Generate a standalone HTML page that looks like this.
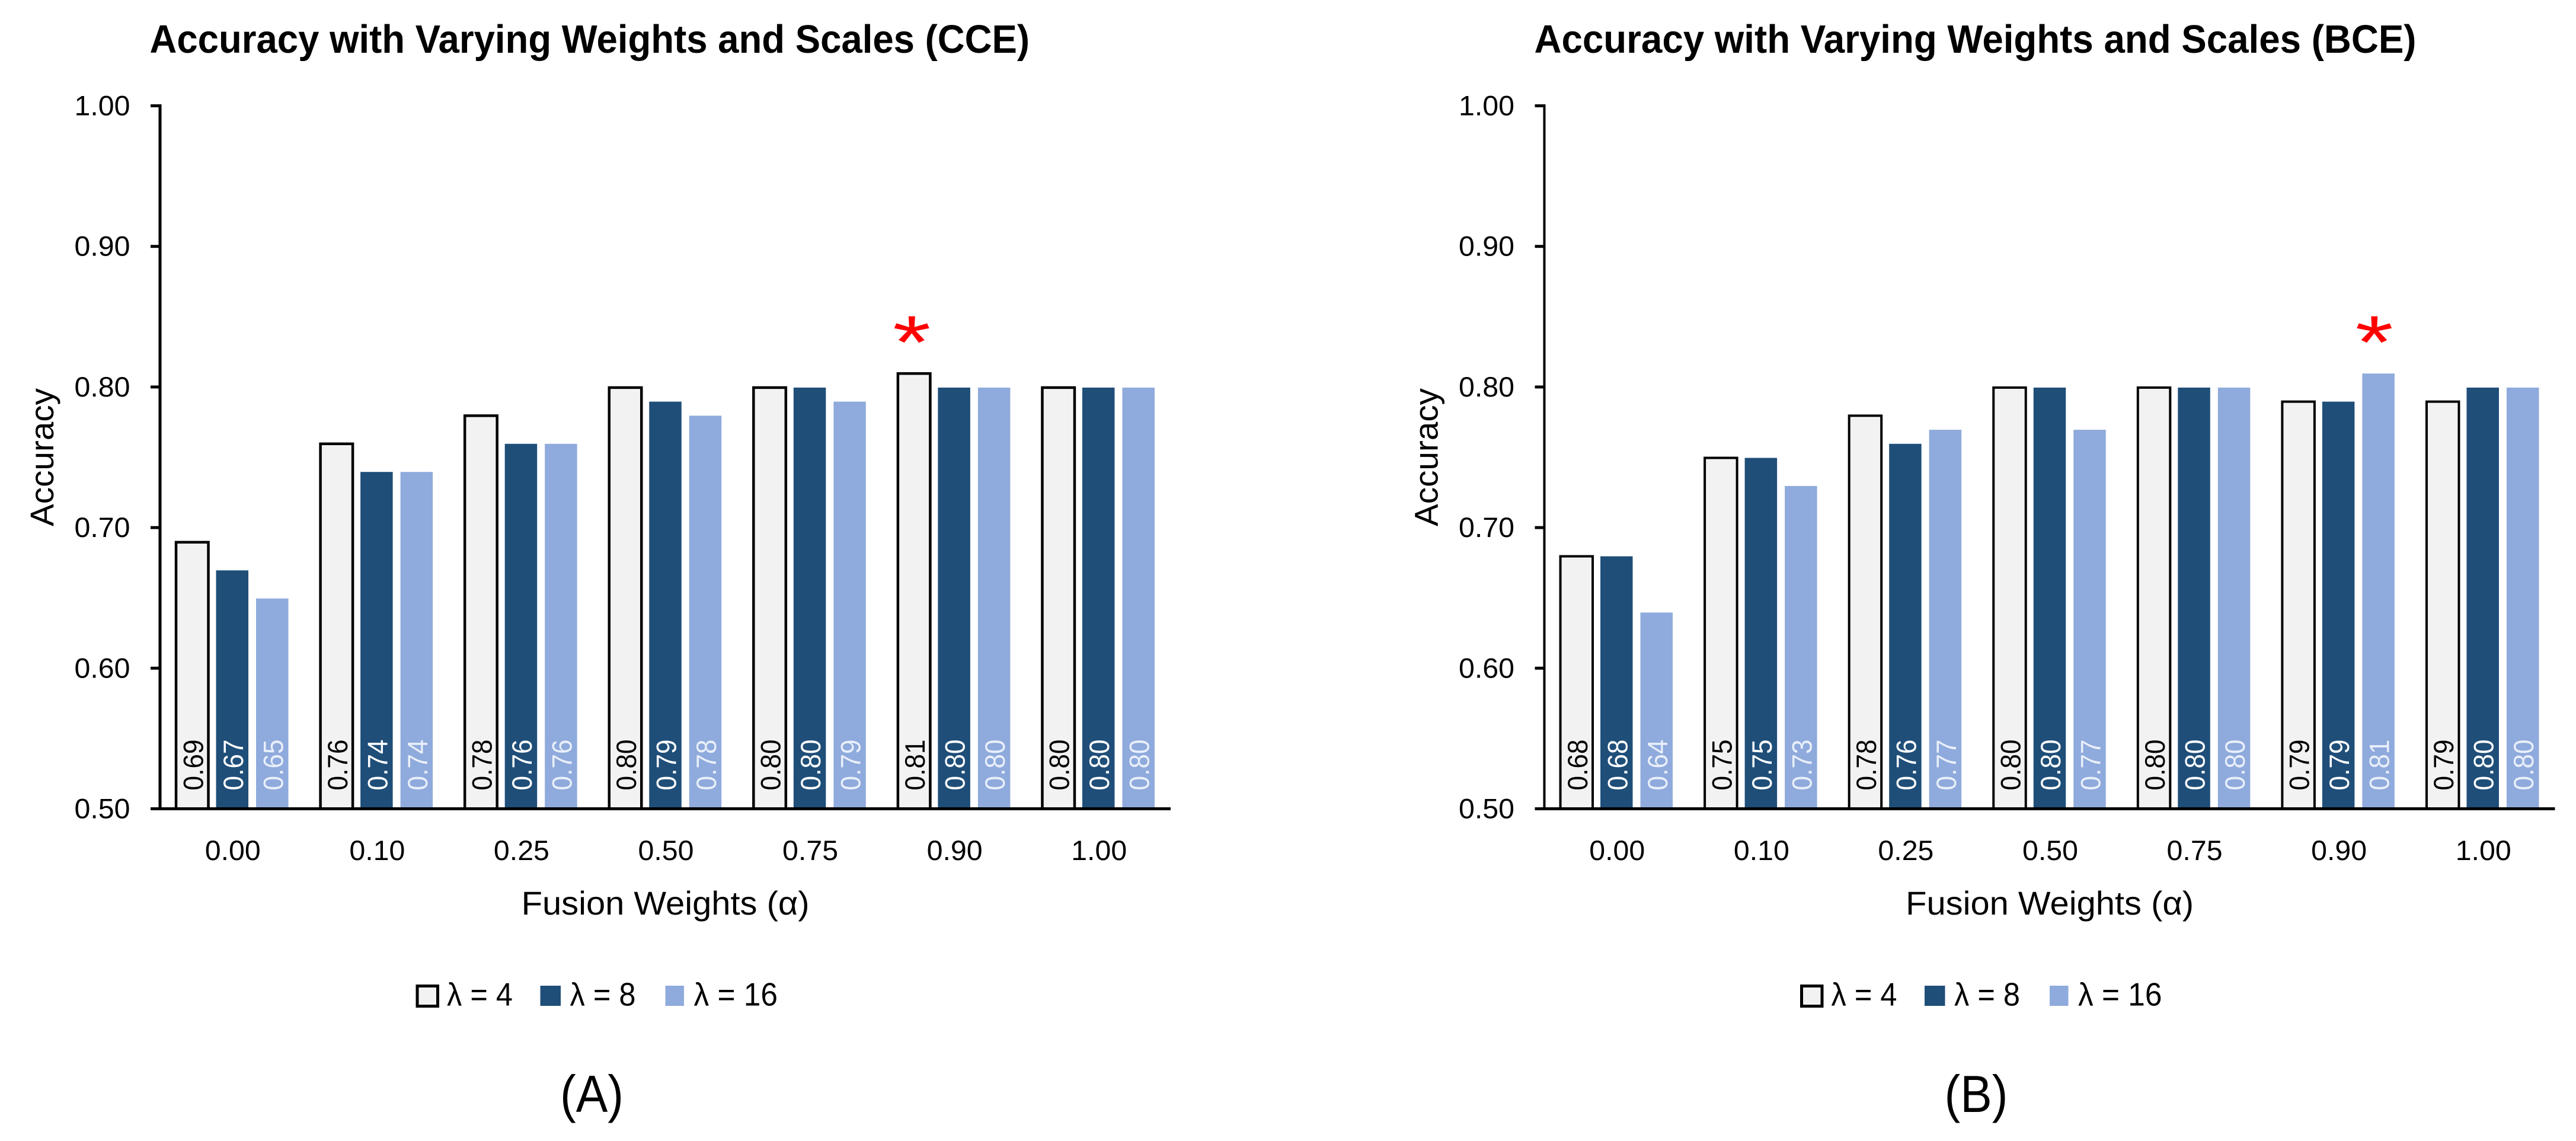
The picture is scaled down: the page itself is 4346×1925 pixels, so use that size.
<!DOCTYPE html>
<html>
<head>
<meta charset="utf-8">
<title>Accuracy with Varying Weights and Scales</title>
<style>
html,body{margin:0;padding:0;background:#fff;}
svg{display:block;}
text{font-family:"Liberation Sans",sans-serif;fill:#000;}
</style>
</head>
<body>
<svg id="figure" width="4346" height="1925" viewBox="0 0 4346 1925" xmlns="http://www.w3.org/2000/svg">
  <rect x="0" y="0" width="4346" height="1925" fill="#ffffff"/>

  <g id="panel-a">
    <text x="252.5" y="89" font-size="67" font-weight="700" textLength="1484.5" lengthAdjust="spacingAndGlyphs">Accuracy with Varying Weights and Scales (CCE)</text>
    <text transform="translate(90 888) rotate(-90)" font-size="56" textLength="233" lengthAdjust="spacingAndGlyphs">Accuracy</text>
    <text x="879.6" y="1543" font-size="56" textLength="486" lengthAdjust="spacingAndGlyphs">Fusion Weights (α)</text>
    <text x="945" y="1876" font-size="88" textLength="107" lengthAdjust="spacingAndGlyphs">(A)</text>
  </g>

  <g id="panel-b" transform="translate(2335.5 0)">
    <text x="253" y="89" font-size="67" font-weight="700" textLength="1488" lengthAdjust="spacingAndGlyphs">Accuracy with Varying Weights and Scales (BCE)</text>
    <text transform="translate(90 888) rotate(-90)" font-size="56" textLength="233" lengthAdjust="spacingAndGlyphs">Accuracy</text>
    <text x="879.6" y="1543" font-size="56" textLength="486" lengthAdjust="spacingAndGlyphs">Fusion Weights (α)</text>
    <text x="945" y="1876" font-size="88" textLength="107" lengthAdjust="spacingAndGlyphs">(B)</text>
  </g>
</svg>

<script>
const categories = ["0.00", "0.10", "0.25", "0.50", "0.75", "0.90", "1.00"];
const yTicks = [0.5, 0.6, 0.7, 0.8, 0.9, 1.0];
const seriesNames = ["λ = 4", "λ = 8", "λ = 16"];

const cceLambda4 = [0.69, 0.76, 0.78, 0.80, 0.80, 0.81, 0.80];
const cceLambda8 = [0.67, 0.74, 0.76, 0.79, 0.80, 0.80, 0.80];
const cceLambda16 = [0.65, 0.74, 0.76, 0.78, 0.79, 0.80, 0.80];

const bceLambda4 = [0.68, 0.75, 0.78, 0.80, 0.80, 0.79, 0.79];
const bceLambda8 = [0.68, 0.75, 0.76, 0.80, 0.80, 0.79, 0.80];
const bceLambda16 = [0.64, 0.73, 0.77, 0.77, 0.80, 0.81, 0.80];

const NS = "http://www.w3.org/2000/svg";
const Y_MIN = 0.5, Y_MAX = 1.0, Y_BOTTOM = 1364.5, Y_TOP = 178.5;
const X_LEFT = 270, X_RIGHT = 1975;
const BAR_WIDTH = 54.5, BAR_PITCH = 67.5;
const FILLS = ["#f2f2f2", "#1f4e79", "#8faadc"];
const LABEL_FILLS = ["#000000", "#ffffff", "#e9effa"];

function yScale(v) {
  return Y_BOTTOM - (v - Y_MIN) / (Y_MAX - Y_MIN) * (Y_BOTTOM - Y_TOP);
}
function xScale(groupIndex, seriesIndex) {
  const band = (X_RIGHT - X_LEFT) / categories.length;
  return X_LEFT + band * (groupIndex + 0.5) + (seriesIndex - 1) * BAR_PITCH;
}
function make(parent, tag, attrs, content) {
  const el = document.createElementNS(NS, tag);
  for (const k in attrs) el.setAttribute(k, attrs[k]);
  if (content !== undefined) el.textContent = content;
  parent.appendChild(el);
  return el;
}

function drawPanel(parent, suffix, seriesList, axisWidth, barStroke, bestGroup, bestSeries, starOffset) {
  // bars and printed values
  seriesList.forEach(function (values, s) {
    values.forEach(function (v, g) {
      const cx = xScale(g, s);
      const top = yScale(v) + 1;
      const bar = make(parent, "rect", {
        x: cx - BAR_WIDTH / 2,
        y: top,
        width: BAR_WIDTH,
        height: Y_BOTTOM - top,
        fill: FILLS[s],
        stroke: s === 0 ? "#000000" : "none",
        "stroke-width": s === 0 ? barStroke : 0
      });
      
      
      const label = make(parent, "text", {
        transform: "translate(" + (cx + 18) + " 1333.5) rotate(-90)",
        "font-size": 47,
        textLength: 86,
        lengthAdjust: "spacingAndGlyphs",
        style: "fill:" + LABEL_FILLS[s]
      }, v.toFixed(2));
      
      
    });
  });

  // best-result star
  const star = make(parent, "text", {
    transform: "translate(" + (xScale(bestGroup, bestSeries) + starOffset) + " 621) scale(1 0.77)",
    "font-size": 165,
    "text-anchor": "middle",
    style: "fill:#ff0000"
  }, "*");
  
  

  // y axis
  const yAxis = make(parent, "line", {
    x1: X_LEFT, x2: X_LEFT, y1: Y_TOP - 2.5, y2: Y_BOTTOM + 2,
    stroke: "#000000", "stroke-width": axisWidth
  });
  
  

  yTicks.forEach(function (t) {
    const y = yScale(t);
    const tick = make(parent, "line", {
      x1: 254, x2: X_LEFT, y1: y, y2: y,
      stroke: "#000000", "stroke-width": 5
    });
    
    
    const tl = make(parent, "text", {
      x: 125.5, y: y + 16,
      "font-size": 47,
      textLength: 94,
      lengthAdjust: "spacingAndGlyphs"
    }, t.toFixed(2));
    
    
  });

  // x axis
  const xAxis = make(parent, "line", {
    x1: 254, x2: X_RIGHT, y1: Y_BOTTOM, y2: Y_BOTTOM,
    stroke: "#000000", "stroke-width": 5
  });
  
  

  categories.forEach(function (c, g) {
    const xl = make(parent, "text", {
      x: xScale(g, 1) - 46, y: 1451,
      "font-size": 47,
      textLength: 94,
      lengthAdjust: "spacingAndGlyphs"
    }, c);
    
    
  });

  // legend
  const swatch0 = make(parent, "rect", {
    x: 704, y: 1663.5, width: 34.5, height: 34,
    fill: FILLS[0], stroke: "#000000", "stroke-width": 5
  });
  
  
  const text0 = make(parent, "text", {
    x: 754, y: 1696.7, "font-size": 55, textLength: 111, lengthAdjust: "spacingAndGlyphs"
  }, seriesNames[0]);
  
  

  const swatch1 = make(parent, "rect", {
    x: 911.5, y: 1663, width: 34.5, height: 34, fill: FILLS[1]
  });
  
  
  const text1 = make(parent, "text", {
    x: 961.5, y: 1696.7, "font-size": 55, textLength: 111, lengthAdjust: "spacingAndGlyphs"
  }, seriesNames[1]);
  
  

  const swatch2 = make(parent, "rect", {
    x: 1122.5, y: 1663, width: 31.5, height: 34, fill: FILLS[2]
  });
  
  
  const text2 = make(parent, "text", {
    x: 1170.5, y: 1696.7, "font-size": 55, textLength: 141.5, lengthAdjust: "spacingAndGlyphs"
  }, seriesNames[2]);
  
  
}

drawPanel(document.getElementById("panel-a"), "a", [cceLambda4, cceLambda8, cceLambda16], 5, 4.5, 5, 0, -4);
drawPanel(document.getElementById("panel-b"), "b", [bceLambda4, bceLambda8, bceLambda16], 4, 4, 5, 2, -7);
</script>
</body>
</html>
